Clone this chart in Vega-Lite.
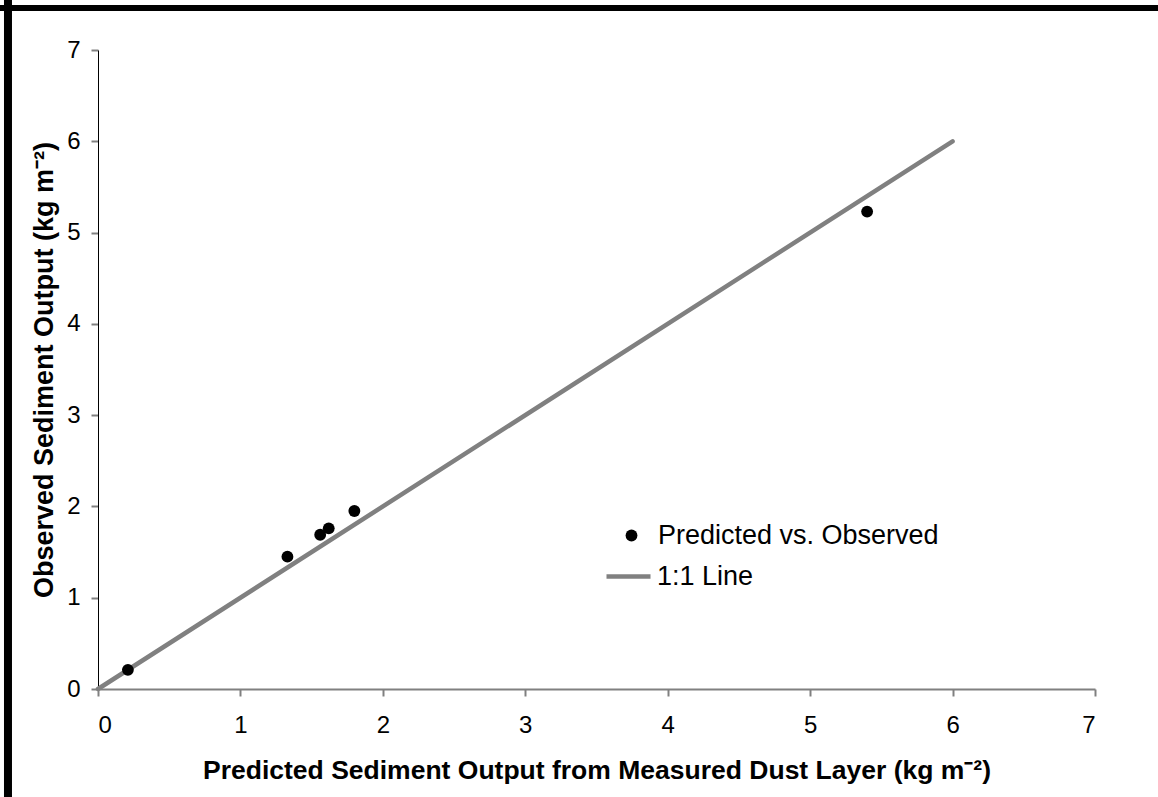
{
  "$schema": "https://vega.github.io/schema/vega-lite/v6.json",
  "width": 997,
  "height": 639,
  "autosize": {"type": "none"},
  "padding": {"left": 98, "top": 50, "right": 63, "bottom": 108},
  "background": "white",
  "config": {
    "view": {"stroke": null},
    "font": "Liberation Sans",
    "axis": {
      "grid": false,
      "labelFont": "Liberation Sans",
      "labelFontSize": 24,
      "labelColor": "black",
      "titleFont": "Liberation Sans",
      "titleFontSize": 27,
      "titleFontWeight": "bold",
      "titleColor": "black",
      "tickSize": 7,
      "tickWidth": 2,
      "tickColor": "#808080",
      "format": "d"
    },
    "legend": {
      "labelFont": "Liberation Sans",
      "labelFontSize": 27,
      "labelColor": "black",
      "labelLimit": 500,
      "padding": 0,
      "title": null
    }
  },
  "datasets": {
    "points": [
      {"predicted": 0.21, "observed": 0.21},
      {"predicted": 1.33, "observed": 1.45},
      {"predicted": 1.56, "observed": 1.69},
      {"predicted": 1.62, "observed": 1.76},
      {"predicted": 1.80, "observed": 1.95},
      {"predicted": 5.40, "observed": 5.23}
    ],
    "oneToOne": [
      {"predicted": 0, "observed": 0},
      {"predicted": 6, "observed": 6}
    ]
  },
  "layer": [
    {
      "data": {"name": "oneToOne"},
      "mark": {"type": "line", "strokeWidth": 4.5, "strokeCap": "round", "color": "#808080"},
      "encoding": {
        "x": {
          "field": "predicted", "type": "quantitative",
          "scale": {"domain": [0, 7], "nice": false, "zero": false},
          "axis": {
            "values": [0, 1, 2, 3, 4, 5, 6, 7],
            "format": "d",
            "title": "Predicted Sediment Output from Measured Dust Layer (kg m⁻²)",
            "titleFontSize": 26.5,
            "domainColor": "#808080",
            "domainWidth": 2,
            "labelPadding": 17,
            "titlePadding": 20
          }
        },
        "y": {
          "field": "observed", "type": "quantitative",
          "scale": {"domain": [0, 7], "nice": false, "zero": false},
          "axis": {
            "values": [0, 1, 2, 3, 4, 5, 6, 7],
            "format": "d",
            "title": "Observed Sediment Output (kg m⁻²)",
            "domainColor": "black",
            "domainWidth": 1,
            "labelPadding": 11,
            "titlePadding": 8
          }
        },
        "color": {
          "datum": "1:1 Line",
          "scale": {"domain": ["1:1 Line"], "range": ["#808080"]},
          "legend": {
            "orient": "none",
            "legendX": 506,
            "legendY": 502,
            "symbolType": "stroke",
            "symbolSize": 1936,
            "symbolStrokeWidth": 4.5,
            "labelOffset": 4
          }
        }
      }
    },
    {
      "data": {"name": "points"},
      "mark": {"type": "point", "filled": true, "size": 140, "color": "black", "opacity": 1},
      "encoding": {
        "x": {"field": "predicted", "type": "quantitative"},
        "y": {"field": "observed", "type": "quantitative"},
        "shape": {
          "datum": "Predicted vs. Observed",
          "scale": {"domain": ["Predicted vs. Observed"], "range": ["circle"]},
          "legend": {
            "orient": "none",
            "legendX": 520,
            "legendY": 472,
            "symbolSize": 140,
            "symbolFillColor": "black",
            "symbolStrokeWidth": 0,
            "symbolOpacity": 1,
            "labelOffset": 13
          }
        }
      }
    },
    {
      "data": {"values": [{}]},
      "mark": {"type": "rule", "color": "black", "strokeWidth": 8},
      "encoding": {
        "x": {"datum": -0.632},
        "y": {"datum": 7.55},
        "y2": {"datum": -1.25}
      }
    },
    {
      "data": {"values": [{}]},
      "mark": {"type": "rule", "color": "black", "strokeWidth": 6},
      "encoding": {
        "y": {"datum": 7.459},
        "x": {"datum": -0.69},
        "x2": {"datum": 7.45}
      }
    }
  ]
}
